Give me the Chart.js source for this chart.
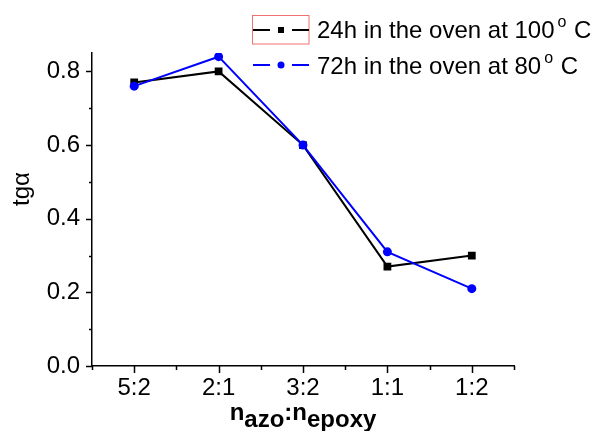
<!DOCTYPE html>
<html lang="en">
<head>
    <meta charset="UTF-8">
    <title>tg alpha vs n_azo:n_epoxy</title>
    <script src="https://cdn.jsdelivr.net/npm/chart.js"></script>
    <style>
        html, body { margin: 0; padding: 0; background: #fff; }
        #chartBox { width: 602px; height: 431px; }
    </style>
</head>
<body>
<div id="chartBox">
    <canvas id="myChart" width="602" height="431"></canvas>
</div>
<script>
  // data
  const ratios = ['5:2', '2:1', '3:2', '1:1', '1:2'];
  const oven24h = [0.77, 0.80, 0.60, 0.27, 0.30];
  const oven72h = [0.76, 0.84, 0.60, 0.31, 0.21];
  const yTicks = [0, 0.2, 0.4, 0.6, 0.8];
  const yMinorTicks = [0.1, 0.3, 0.5, 0.7];
  const legendText = [
    ['24h in the oven at 100', 'o', ' C'],
    ['72h in the oven at 80', 'o', ' C']
  ];

  const FONT = 'Arial, "Liberation Sans", sans-serif';

  // small tick marks like in Origin (major + minor)
  const tickMarks = {
    id: 'tickMarks',
    afterDraw(chart) {
      const ctx = chart.ctx;
      const xs = chart.scales.x, ys = chart.scales.y;
      const area = chart.chartArea;
      ctx.save();
      ctx.strokeStyle = '#000';
      ctx.lineWidth = 1.5;
      ctx.beginPath();
      ratios.forEach((r, i) => {
        const px = Math.round(xs.getPixelForValue(i)) + 0.5;
        ctx.moveTo(px, area.bottom); ctx.lineTo(px, area.bottom + 7);
      });
      for (let i = 0; i <= ratios.length; i++) {
        const px = Math.round(xs.getPixelForValue(i - 0.5)) + 0.5;
        ctx.moveTo(px, area.bottom); ctx.lineTo(px, area.bottom + 4);
      }
      yTicks.forEach(v => {
        const py = Math.round(ys.getPixelForValue(v)) + 0.5;
        ctx.moveTo(area.left, py); ctx.lineTo(area.left - 6, py);
      });
      yMinorTicks.forEach(v => {
        const py = Math.round(ys.getPixelForValue(v)) + 0.5;
        ctx.moveTo(area.left, py); ctx.lineTo(area.left - 3, py);
      });
      ctx.stroke();
      ctx.restore();
    }
  };

  // axis titles: tgα and n_azo:n_epoxy
  const axisTitles = {
    id: 'axisTitles',
    afterDraw(chart) {
      const ctx = chart.ctx;
      ctx.save();
      ctx.fillStyle = '#000';
      ctx.font = '24px ' + FONT;
      ctx.translate(22, 189);
      ctx.rotate(-Math.PI / 2);
      ctx.textAlign = 'center';
      ctx.textBaseline = 'middle';
      ctx.fillText('tgα', 0, 0);
      ctx.restore();

      ctx.save();
      ctx.fillStyle = '#000';
      ctx.font = 'bold 24px ' + FONT;
      ctx.textBaseline = 'alphabetic';
      const parts = [['n', 420], ['azo', 427], [':', 420], ['n', 420], ['epoxy', 427]];
      let total = 0;
      parts.forEach(p => { total += ctx.measureText(p[0]).width; });
      let x = 303 - total / 2;
      parts.forEach(p => {
        ctx.fillText(p[0], x, p[1]);
        x += ctx.measureText(p[0]).width;
      });
      ctx.restore();
    }
  };

  // Origin-style legend in the top right corner
  const originLegend = {
    id: 'originLegend',
    afterDraw(chart) {
      const ctx = chart.ctx;
      const rows = [
        { y: 30, base: 38, color: '#000', style: 'rect' },
        { y: 65, base: 74, color: '#0000ff', style: 'circle' }
      ];
      ctx.save();
      ctx.strokeStyle = '#f07070';
      ctx.lineWidth = 1;
      ctx.strokeRect(252.5, 15.5, 56.5, 28.5);

      rows.forEach((row, i) => {
        ctx.strokeStyle = row.color;
        ctx.fillStyle = row.color;
        ctx.lineWidth = 2;
        ctx.beginPath();
        ctx.moveTo(253, row.y); ctx.lineTo(270, row.y);
        ctx.moveTo(292, row.y); ctx.lineTo(309, row.y);
        ctx.stroke();
        if (row.style === 'rect') {
          ctx.fillRect(278, row.y - 3, 6, 6);
        } else {
          ctx.beginPath();
          ctx.arc(281, row.y, 3.5, 0, Math.PI * 2);
          ctx.fill();
        }

        ctx.fillStyle = '#000';
        const [main, deg, tail] = legendText[i];
        let x = 317;
        ctx.font = '24px ' + FONT;
        ctx.textBaseline = 'alphabetic';
        ctx.fillText(main, x, row.base);
        x += ctx.measureText(main).width + 3;
        ctx.font = '16px ' + FONT;
        ctx.fillText(deg, x, row.base - 11);
        x += ctx.measureText(deg).width + 1;
        ctx.font = '24px ' + FONT;
        ctx.fillText(tail, x, row.base);
      });
      ctx.restore();
    }
  };

  const ctx = document.getElementById('myChart').getContext('2d');
  const chart = new Chart(ctx, {
    type: 'line',
    data: {
      labels: ratios,
      datasets: [{
        label: '24h in the oven at 100° C',
        data: oven24h,
        borderColor: '#000',
        backgroundColor: '#000',
        borderWidth: 2,
        pointStyle: 'rect',
        pointRadius: 5.5,
        pointBorderWidth: 0,
        tension: 0,
        order: 1
      }, {
        label: '72h in the oven at 80° C',
        data: oven72h,
        borderColor: '#0000ff',
        backgroundColor: '#0000ff',
        borderWidth: 2,
        pointStyle: 'circle',
        pointRadius: 4.5,
        pointBorderWidth: 0,
        tension: 0,
        order: 0
      }]
    },
    options: {
      responsive: false,
      animation: false,
      devicePixelRatio: 1,
      layout: { padding: { top: 53, right: 88, left: 0, bottom: 0 } },
      plugins: {
        legend: { display: false },
        tooltip: { enabled: false }
      },
      scales: {
        x: {
          type: 'category',
          offset: true,
          grid: { display: false, drawTicks: false },
          border: { display: true, color: '#000', width: 1.5 },
          ticks: { color: '#000', font: { size: 24, family: FONT }, padding: 8, maxRotation: 0 },
          afterFit(scale) { scale.height = 65; }
        },
        y: {
          min: 0,
          max: 0.85,
          grid: { display: false, drawTicks: false },
          border: { display: true, color: '#000', width: 1.5 },
          ticks: {
            color: '#000',
            font: { size: 24, family: FONT },
            padding: 12,
            callback: v => Number(v).toFixed(1)
          },
          afterBuildTicks(scale) { scale.ticks = yTicks.map(v => ({ value: v })); },
          afterFit(scale) { scale.width = 92; }
        }
      }
    },
    plugins: [tickMarks, axisTitles, originLegend]
  });
</script>
</body>
</html>
